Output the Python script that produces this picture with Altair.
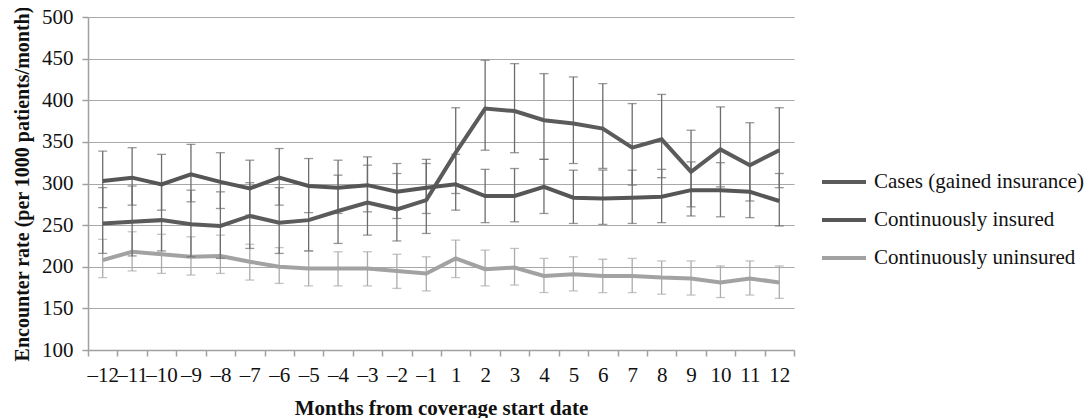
import altair as alt
import pandas as pd

FONT = "Liberation Serif"

months = [-12, -11, -10, -9, -8, -7, -6, -5, -4, -3, -2, -1,
          1, 2, 3, 4, 5, 6, 7, 8, 9, 10, 11, 12]

series_names = ["Cases (gained insurance)", "Continuously insured", "Continuously uninsured"]

cases = [252, 254, 256, 251, 249, 261, 253, 256, 267, 277, 269, 280,
         337, 390, 387, 376, 372, 366, 343, 353, 314, 341, 322, 340]
cases_lo = [216, 213, 219, 212, 210, 222, 216, 219, 228, 238, 231, 240,
            288, 340, 337, 329, 324, 318, 298, 307, 272, 296, 279, 295]
cases_hi = [295, 297, 299, 292, 290, 301, 295, 298, 310, 322, 312, 324,
            391, 448, 444, 432, 428, 420, 396, 407, 364, 392, 373, 391]

insured = [303, 307, 299, 311, 302, 294, 307, 297, 295, 298, 290, 295,
           299, 285, 285, 296, 283, 282, 283, 284, 292, 292, 290, 279]
insured_lo = [271, 274, 268, 278, 270, 262, 274, 265, 264, 266, 258, 264,
              268, 253, 254, 264, 252, 251, 252, 253, 261, 260, 259, 249]
insured_hi = [339, 343, 335, 347, 337, 328, 342, 330, 328, 332, 324, 329,
              335, 317, 318, 329, 316, 316, 316, 317, 326, 325, 323, 312]

uninsured = [208, 218, 215, 212, 213, 206, 200, 198, 198, 198, 195, 192,
             210, 197, 199, 189, 191, 189, 189, 187, 186, 181, 186, 181]
uninsured_lo = [187, 195, 192, 190, 192, 184, 180, 177, 177, 177, 174, 171,
                187, 177, 178, 169, 171, 169, 169, 167, 166, 163, 166, 162]
uninsured_hi = [233, 242, 239, 236, 238, 227, 223, 219, 218, 218, 215, 212,
                232, 220, 222, 210, 212, 209, 210, 207, 207, 201, 207, 201]

y_ticks = [100, 150, 200, 250, 300, 350, 400, 450, 500]

line_colors = ["#5b5b5b", "#565656", "#a2a2a2"]
dark_bar_color = "#6c6c6c"
light_bar_color = "#ababab"

rows = []
for name, v, lo, hi in [
    (series_names[0], cases, cases_lo, cases_hi),
    (series_names[1], insured, insured_lo, insured_hi),
    (series_names[2], uninsured, uninsured_lo, uninsured_hi),
]:
    for m, a, b, c in zip(months, v, lo, hi):
        rows.append({"month": m, "series": name, "value": a, "lo": b, "hi": c})
df = pd.DataFrame(rows)

x_enc = alt.X(
    "month:O",
    sort=months,
    bandPosition=0.5,
    scale=alt.Scale(type="band", paddingInner=0, paddingOuter=0),
    axis=alt.Axis(
        title="Months from coverage start date",
        labelExpr="replace(datum.label, '-', '–')",
        labelAngle=0,
        tickBand="extent",
        tickSize=6,
        labelPadding=8,
        titlePadding=12,
        titleFontSize=21,
        grid=False,
    ),
)
y_scale = alt.Scale(domain=[100, 500], nice=False, zero=False)
y_axis = alt.Axis(
    title="Encounter rate (per 1000 patients/month)",
    values=y_ticks,
    tickSize=6,
    labelPadding=9,
    titlePadding=9,
    titleFontSize=20,
    grid=True,
)
color_enc = alt.Color(
    "series:N",
    scale=alt.Scale(domain=series_names, range=line_colors),
    legend=alt.Legend(
        title=None,
        orient="none",
        legendX=732,
        legendY=141,
        symbolType="stroke",
        symbolSize=1936,
        symbolStrokeWidth=4,
        labelFont=FONT,
        labelFontSize=21,
        labelColor="#111111",
        labelOffset=6,
        labelLimit=400,
        rowPadding=4,
        padding=0,
    ),
)

base = alt.Chart(df)
light = base.transform_filter(alt.datum.series == series_names[2])
dark = base.transform_filter(alt.datum.series != series_names[2])


def bars(src, color):
    rule = src.mark_rule(color=color, strokeWidth=1.3).encode(
        x=x_enc,
        y=alt.Y("lo:Q", scale=y_scale, axis=y_axis),
        y2="hi:Q",
    )
    caps = src.transform_fold(["lo", "hi"], as_=["end", "endval"]).mark_tick(
        color=color, size=9, thickness=1.3
    ).encode(
        x=x_enc,
        y=alt.Y("endval:Q", scale=y_scale, axis=y_axis),
    )
    return rule + caps


def lines(src):
    return src.mark_line(strokeWidth=4, strokeJoin="miter").encode(
        x=x_enc,
        y=alt.Y("value:Q", scale=y_scale, axis=y_axis),
        color=color_enc,
        detail="series:N",
    )


chart = alt.layer(
    bars(light, light_bar_color),
    lines(light),
    bars(dark, dark_bar_color),
    lines(dark),
).properties(
    width=706,
    height=333,
    autosize=alt.AutoSizeParams(type="none"),
    padding={"left": 80, "top": 9, "right": 290, "bottom": 70},
    background="white",
).configure_view(
    stroke=None
).configure_axis(
    labelFont=FONT,
    titleFont=FONT,
    labelFontSize=21,
    titleFontWeight="bold",
    labelColor="#111111",
    titleColor="#111111",
    domainColor="#a0a0a0",
    tickColor="#a0a0a0",
    gridColor="#a8a8a8",
    domainWidth=1.5,
    tickWidth=1.5,
)

chart.save("out.html", embed_options={"renderer": "svg", "actions": False})
